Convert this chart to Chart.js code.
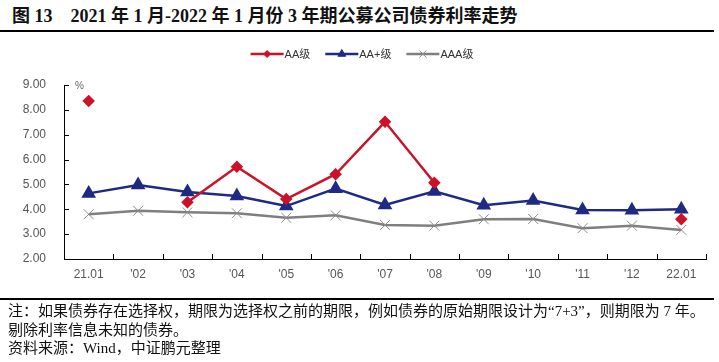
<!DOCTYPE html>
<html>
<head>
<meta charset="utf-8">
<script src="https://cdn.jsdelivr.net/npm/chart.js@4/dist/chart.umd.min.js"></script>
<style>
  body { margin: 0; background: #fff; width: 719px; height: 362px; overflow: hidden; position: relative; }
  #title { position: absolute; left: 12px; top: 6px; font: bold 18px "Liberation Serif", "Noto Sans CJK SC", serif; line-height: 20px; color: #111; white-space: nowrap; }
  .rule { position: absolute; left: 0; width: 714px; height: 2px; background: #000; }
  #notes { position: absolute; left: 8px; top: 302px; font: 15px "Liberation Serif", "Noto Sans CJK SC", serif; line-height: 18.5px; color: #111; white-space: nowrap; }
  canvas { position: absolute; left: 0; top: 0; }
</style>
</head>
<body>
<div id="title">图 13　2021 年 1 月-2022 年 1 月份 3 年期公募公司债券利率走势</div>
<div class="rule" style="top:30px"></div>
<canvas id="myChart" width="719" height="362"></canvas>
<div class="rule" style="top:298px"></div>
<div id="notes">注：如果债券存在选择权，期限为选择权之前的期限，例如债券的原始期限设计为“7+3”，则期限为 7 年。<br>剔除利率信息未知的债券。<br>资料来源：Wind，中证鹏元整理</div>
<script>
var categories = ['21.01', "'02", "'03", "'04", "'05", "'06", "'07", "'08", "'09", "'10", "'11", "'12", '22.01'];
var aa     = [8.36, null, 4.28, 5.71, 4.41, 5.41, 7.52, 5.07, null, null, null, null, 3.60];
var aaPlus = [4.64, 4.98, 4.70, 4.53, 4.13, 4.83, 4.17, 4.72, 4.16, 4.35, 3.97, 3.96, 4.00];
var aaa    = [3.80, 3.94, 3.88, 3.84, 3.66, 3.76, 3.37, 3.34, 3.60, 3.61, 3.24, 3.34, 3.17];
var yMin = 2, yMax = 9;

var labelFont = { family: '"Liberation Sans", Arial, sans-serif', size: 12 };

// legend (line + marker) and inside tick marks, like the excel original
var extras = {
    id: 'extras',
    afterDraw: function(chart) {
        var ctx = chart.ctx, area = chart.chartArea;
        var xs = chart.scales.x, ys = chart.scales.y;
        ctx.save();
        ctx.strokeStyle = '#000';
        ctx.lineWidth = 1;
        ctx.beginPath();
        ys.ticks.forEach(function(t) {
            var y = Math.round(ys.getPixelForValue(t.value)) + 0.5;
            ctx.moveTo(area.left, y);
            ctx.lineTo(area.left + 5, y);
        });
        for (var i = 0; i <= categories.length; i++) {
            var x = Math.round(xs.getPixelForValue(i - 0.5)) + 0.5;
            ctx.moveTo(x, area.bottom);
            ctx.lineTo(x, area.bottom - 5);
        }
        ctx.stroke();

        ctx.fillStyle = '#666';
        ctx.font = '10px "Liberation Sans", Arial, sans-serif';
        ctx.textBaseline = 'middle';
        ctx.fillText('%', area.left + 11, area.top + 1);

        // legend
        ctx.font = '11px "Liberation Sans", "Noto Sans CJK SC", sans-serif';
        var items = chart.data.datasets;
        var widths = items.map(function(d) { return 34 + ctx.measureText(d.label).width; });
        var total = widths.reduce(function(a, b) { return a + b; }, 0) + 15 * (items.length - 1);
        var lx = 362 - total / 2, ly = 54;
        items.forEach(function(d, k) {
            ctx.strokeStyle = d.borderColor;
            ctx.lineWidth = 2.5;
            ctx.beginPath();
            ctx.moveTo(lx, ly);
            ctx.lineTo(lx + 33, ly);
            ctx.stroke();
            ctx.fillStyle = d.pointBackgroundColor;
            ctx.strokeStyle = d.pointBorderColor;
            ctx.lineWidth = 1;
            Chart.helpers.drawPoint(ctx, { pointStyle: d.pointStyle, radius: d.legendRadius, borderWidth: 1, rotation: 0 }, lx + 16.5, ly);
            ctx.fillStyle = '#333';
            ctx.fillText(d.label, lx + 34, ly + 1);
            lx += widths[k] + 15;
        });
        ctx.restore();
    }
};

var ctx = document.getElementById('myChart').getContext('2d');
var myChart = new Chart(ctx, {
    type: 'line',
    data: {
        labels: categories,
        datasets: [{
            label: 'AA级',
            data: aa,
            borderColor: '#CC1128',
            backgroundColor: '#CC1128',
            pointBackgroundColor: '#CC1128',
            pointBorderColor: '#CC1128',
            borderWidth: 2.5,
            pointStyle: 'rectRot',
            pointRadius: 4.5,
            legendRadius: 3.5,
            spanGaps: false
        }, {
            label: 'AA+级',
            data: aaPlus,
            borderColor: '#1E2A84',
            backgroundColor: '#1E2A84',
            pointBackgroundColor: '#1E2A84',
            pointBorderColor: '#1E2A84',
            borderWidth: 2.5,
            pointStyle: 'triangle',
            pointRadius: 6,
            legendRadius: 4.5
        }, {
            label: 'AAA级',
            data: aaa,
            borderColor: '#7F7F7F',
            backgroundColor: '#7F7F7F',
            pointBackgroundColor: '#8C8C8C',
            pointBorderColor: '#8C8C8C',
            borderWidth: 2.5,
            pointStyle: 'crossRot',
            pointRadius: 7,
            pointBorderWidth: 1,
            legendRadius: 5
        }]
    },
    options: {
        responsive: false,
        animation: false,
        devicePixelRatio: 1,
        layout: { padding: { top: 85, right: 13, left: 0, bottom: 0 } },
        elements: { line: { tension: 0 } },
        plugins: { legend: { display: false }, tooltip: { enabled: false } },
        scales: {
            x: {
                offset: true,
                grid: { display: false, drawTicks: false },
                border: { display: true, color: '#000', width: 1 },
                ticks: { color: '#555', font: labelFont, padding: 8, maxRotation: 0, autoSkip: false },
                afterFit: function(s) { s.height = 103; }
            },
            y: {
                min: yMin,
                max: yMax,
                grid: { display: false, drawTicks: false },
                border: { display: true, color: '#000', width: 1 },
                ticks: {
                    stepSize: 1,
                    color: '#555',
                    font: labelFont,
                    padding: 18,
                    callback: function(v) { return v.toFixed(2); }
                },
                afterFit: function(s) { s.width = 64; }
            }
        }
    },
    plugins: [extras]
});
</script>
</body>
</html>
